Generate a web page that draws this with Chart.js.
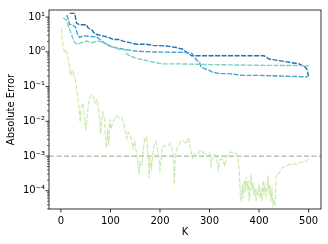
<!DOCTYPE html>
<html><head><meta charset="utf-8">
<script src="https://cdn.jsdelivr.net/npm/chart.js@4/dist/chart.umd.min.js"></script>
<style>html,body{margin:0;padding:0;background:#fff;}canvas{display:block;}</style>
</head><body>
<canvas id="c" width="328" height="244"></canvas>
<script>
// ---- data ----
const xTicks = [0, 100, 200, 300, 400, 500];
const yMajorTicks = [1e-4, 1e-3, 1e-2, 1e-1, 1, 10];
const yTickLabels = ['10\u207B\u2074', '10\u207B\u00B3', '10\u207B\u00B2', '10\u207B\u00B9', '10\u2070', '10\u00B9'];
const xTitle = 'K';
const yTitle = 'Absolute Error';
const refLevel = 1e-3;

const darkK = [18, 28, 31.6, 38, 52, 55, 62, 67, 72, 88.5, 98.6, 105, 118.7, 125, 139, 152, 172, 185.7, 212.7, 232.8, 246, 254, 259.6, 264, 410, 420.5, 440.6, 460.8, 481, 487.5, 494, 497.6, 499.6];
const darkVals = [12.8, 12.8, 6.7, 6.0, 6.0, 4.85, 4.35, 3.5, 3.15, 2.8, 2.54, 2.27, 2.27, 2.04, 1.84, 1.65, 1.65, 1.54, 1.47, 1.33, 1.19, 0.96, 0.86, 0.77, 0.77, 0.62, 0.56, 0.50, 0.45, 0.40, 0.36, 0.29, 0.19];

const midK = [11.5, 14.7, 18, 24, 30, 34, 38, 44, 54, 64, 72, 78, 90, 100, 112, 128, 145, 165, 185, 210, 240, 262, 266, 273.6, 279.7, 283, 289.7, 300, 306, 320, 340, 367, 400, 450, 498];
const midVals = [11.5, 9, 6.2, 6.0, 5.0, 3.0, 2.6, 2.9, 2.8, 2.75, 2.7, 2.3, 1.7, 1.45, 1.3, 1.18, 1.08, 1.02, 1.0, 0.98, 0.97, 0.95, 0.86, 0.58, 0.50, 0.36, 0.33, 0.29, 0.26, 0.236, 0.236, 0.21, 0.21, 0.2, 0.19];

const tealK = [4.6, 11.5, 14.7, 18, 21.5, 24.7, 28, 35, 41.6, 51.7, 61.8, 75, 88.5, 98.6, 108.7, 118.7, 129, 133, 140, 159, 185, 205, 240, 300, 400, 501];
const tealVals = [9.3, 8.3, 6.0, 4.35, 3.15, 2.27, 1.84, 1.65, 1.84, 2.04, 1.84, 2.04, 1.84, 1.47, 1.33, 1.19, 1.15, 0.86, 0.75, 0.62, 0.51, 0.45, 0.45, 0.43, 0.41, 0.40];

const greenK = [0.6, 2, 4, 7.4, 10.7, 14, 17.5, 19.5, 22, 24, 27.5, 31, 33, 35.6, 37.6, 39, 41, 44, 47.6, 50, 53, 55.7, 59, 62, 66, 69, 73, 75.7, 78.5, 80, 82.5, 85, 88, 90, 92, 94.6, 96.6, 98.6, 101, 104.6, 108, 111, 115, 118, 122, 127, 130, 133, 135.6, 139, 142, 145.6, 149, 152, 155.6, 157.5, 159.5, 163.6, 166, 169, 171.6, 174, 176, 178, 180.5, 183, 185.6, 188, 191, 195, 198, 200, 202, 204, 208, 212.7, 217, 221, 224, 227, 229, 231, 234, 238, 241.5, 245.5, 249.5, 253, 256, 258, 261, 263, 266, 269.6, 273, 276, 279.7, 283, 286.5, 290, 293, 296, 300, 303, 306, 310, 314, 318, 321, 325, 328, 331, 334, 338, 342, 346, 350, 354, 357, 360, 362, 364, 366, 368, 370, 372, 374, 376, 378, 380, 382, 384, 386, 388, 390, 392, 394, 396, 398, 400, 402, 404, 406, 408, 410, 412, 414, 416, 418, 420, 422, 424, 426, 428, 430, 432, 435, 440, 445, 448, 452, 456, 461, 465, 470, 475, 480, 485, 490, 494, 497, 500];
const greenVals = [4.8, 3.0, 1.6, 0.96, 1.07, 0.7, 0.36, 0.21, 0.26, 0.29, 0.19, 0.12, 0.065, 0.034, 0.018, 0.0093, 0.022, 0.034, 0.014, 0.0055, 0.014, 0.034, 0.052, 0.058, 0.047, 0.034, 0.042, 0.027, 0.0115, 0.0044, 0.0115, 0.018, 0.0115, 0.004, 0.0017, 0.006, 0.002, 0.0115, 0.006, 0.0093, 0.0115, 0.014, 0.014, 0.012, 0.0128, 0.0093, 0.0049, 0.0032, 0.0049, 0.004, 0.0032, 0.0017, 0.0026, 0.00134, 0.00056, 0.0003, 0.0007, 0.00056, 0.00134, 0.0032, 0.0035, 0.0026, 0.0012, 0.00023, 0.0009, 0.00046, 0.0011, 0.002, 0.0026, 0.0017, 0.00087, 0.00041, 0.0007, 0.0017, 0.002, 0.0019, 0.002, 0.0023, 0.0017, 0.0011, 0.00015, 0.0009, 0.0017, 0.002, 0.0026, 0.0028, 0.0026, 0.0022, 0.0033, 0.0033, 0.0017, 0.00134, 0.00087, 0.0012, 0.00097, 0.0011, 0.00134, 0.0015, 0.0012, 0.00134, 0.0011, 0.00097, 0.0012, 0.0005, 0.00087, 0.0011, 0.0009, 0.0004, 0.0008, 0.0008, 0.0007, 0.0005, 0.0009, 0.0012, 0.0013, 0.0013, 0.0012, 0.0012, 0.0009, 0.0004, 0.00008, 0.00005, 0.00015, 0.00006, 0.0002, 0.00009, 0.00025, 0.00012, 0.0002, 0.00005, 0.00015, 0.0003, 0.0001, 0.00018, 0.00007, 0.00012, 0.00005, 0.0001, 0.00008, 0.00015, 0.00006, 0.0001, 0.00005, 0.0002, 0.00009, 0.00014, 0.00007, 0.0001, 0.00028, 0.00008, 0.00015, 0.00005, 0.00012, 0.00004, 0.00005, 0.00004, 0.0003, 0.00032, 0.00042, 0.00046, 0.0005, 0.00052, 0.00058, 0.00056, 0.0006, 0.00058, 0.00064, 0.00065, 0.00068, 0.0007, 0.00075, 0.00079];

// ---- build chart ----
const pts = (ks, vs) => ks.map((k, i) => ({x: k, y: vs[i]}));
const X_MIN = -24, X_MAX = 525;
const Y_MIN = Math.pow(10, -4.525), Y_MAX = Math.pow(10, 1.205);

const yMinorTicks = [];
for (let e = -5; e <= 1; e++) {
  for (let m = 2; m <= 9; m++) {
    const v = m * Math.pow(10, e);
    if (v >= Y_MIN && v <= Y_MAX) yMinorTicks.push(v);
  }
}

Chart.defaults.font.family = 'DejaVu Sans';
Chart.defaults.font.size = 10;
Chart.defaults.color = '#000';

const ds = (label, data, color, width, dash) => ({
  label, data, borderColor: color, backgroundColor: color,
  borderWidth: width, borderDash: dash, pointRadius: 0, fill: false, tension: 0
});

const decor = {
  id: 'decor',
  afterDatasetsDraw(chart) {
    const {ctx, chartArea: a, scales: {x, y}} = chart;
    ctx.save();
    ctx.strokeStyle = '#000';
    ctx.lineWidth = 0.8;
    ctx.strokeRect(a.left, a.top, a.right - a.left, a.bottom - a.top);
    ctx.beginPath();
    xTicks.forEach(v => {
      const px = x.getPixelForValue(v);
      ctx.moveTo(px, a.bottom); ctx.lineTo(px, a.bottom + 3.5);
    });
    yMajorTicks.forEach(v => {
      const py = y.getPixelForValue(v);
      ctx.moveTo(a.left, py); ctx.lineTo(a.left - 3.5, py);
    });
    ctx.stroke();
    ctx.lineWidth = 0.6;
    ctx.beginPath();
    yMinorTicks.forEach(v => {
      const py = y.getPixelForValue(v);
      ctx.moveTo(a.left, py); ctx.lineTo(a.left - 2, py);
    });
    ctx.stroke();
    ctx.restore();
  }
};

new Chart(document.getElementById('c'), {
  type: 'line',
  data: {
    datasets: [
      ds('green', pts(greenK, greenVals), 'rgba(195,232,165,0.95)', 1.1, [5, 1.5]),
      ds('teal', pts(tealK, tealVals), '#7ccec3', 1.4, [5, 1.5]),
      ds('mid', pts(midK, midVals), '#46a0d2', 1.4, [5, 1.5]),
      ds('dark', pts(darkK, darkVals), '#2170b4', 1.4, [5, 1.5]),
      ds('ref', pts([X_MIN, X_MAX], [refLevel, refLevel]), 'rgba(150,168,150,0.85)', 1.2, [5, 2.5])
    ]
  },
  options: {
    responsive: false,
    animation: false,
    devicePixelRatio: 1,
    layout: {padding: {left: 0, right: 7, top: 5, bottom: 0}},
    plugins: {legend: {display: false}, tooltip: {enabled: false}},
    scales: {
      x: {
        type: 'linear', min: X_MIN, max: X_MAX,
        grid: {display: false, drawTicks: false},
        border: {display: false},
        afterBuildTicks: s => { s.ticks = xTicks.map(v => ({value: v})); },
        afterFit: s => { s.height = 35; },
        ticks: {autoSkip: false, maxRotation: 0, padding: 6, callback: v => String(v)},
        title: {display: true, text: xTitle, padding: {top: 0, bottom: 6}}
      },
      y: {
        type: 'logarithmic', min: Y_MIN, max: Y_MAX,
        grid: {display: false, drawTicks: false},
        border: {display: false},
        afterBuildTicks: s => { s.ticks = yMajorTicks.map(v => ({value: v})); },
        afterFit: s => { s.width = 49; },
        ticks: {autoSkip: false, padding: 4, callback: v => { const k = yMajorTicks.indexOf(v); return k >= 0 ? yTickLabels[k] : ''; }},
        title: {display: true, text: yTitle, padding: {top: 5, bottom: 0}}
      }
    }
  },
  plugins: [decor]
});
</script>
</body></html>
